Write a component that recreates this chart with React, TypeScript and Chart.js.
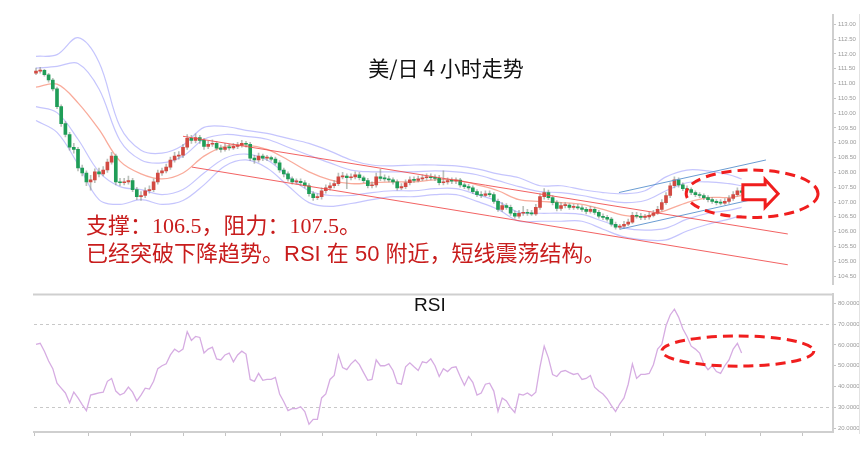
import React, { useEffect, useRef } from "react";
import { Chart, registerables } from "chart.js";
Chart.register(...registerables);

// ---------------- data ----------------
const firstOpen = 111.35;
const closes = [
  111.42, 111.45, 111.30, 111.12, 110.82, 110.22, 109.65, 109.28, 108.85, 108.78,
  108.15, 107.98, 107.68, 107.75, 108.02, 107.95, 108.08, 108.35, 108.55, 107.68,
  107.65, 107.68, 107.72, 107.42, 107.18, 107.22, 107.38, 107.42, 107.68, 107.98,
  108.05, 108.18, 108.42, 108.55, 108.58, 108.85, 109.15, 109.08, 109.18, 109.08,
  108.88, 108.95, 108.98, 108.82, 108.78, 108.85, 108.83, 108.88, 108.92, 108.98,
  108.95, 108.48, 108.42, 108.55, 108.48, 108.50, 108.45, 108.32, 108.08, 107.95,
  107.78, 107.68, 107.70, 107.65, 107.55, 107.28, 107.15, 107.18, 107.38, 107.48,
  107.55, 107.62, 107.85, 107.88, 107.82, 107.85, 107.92, 107.82, 107.72, 107.55,
  107.58, 107.85, 107.80, 107.78, 107.75, 107.68, 107.48, 107.52, 107.65, 107.75,
  107.73, 107.78, 107.82, 107.85, 107.82, 107.80, 107.65, 107.68, 107.72, 107.70,
  107.74, 107.58, 107.52, 107.48, 107.35, 107.25, 107.22, 107.28, 107.25, 107.02,
  106.75, 106.88, 106.82, 106.62, 106.52, 106.62, 106.65, 106.62, 106.60, 106.82,
  107.18, 107.32, 107.15, 106.98, 106.78, 106.88, 106.90, 106.82, 106.84, 106.80,
  106.75, 106.68, 106.75, 106.65, 106.52, 106.48, 106.42, 106.25, 106.15, 106.18,
  106.25, 106.32, 106.55, 106.52, 106.48, 106.50, 106.55, 106.62, 106.75, 106.98,
  107.22, 107.55, 107.75, 107.58, 107.45, 107.42, 107.32, 107.25, 107.22, 107.15,
  107.08, 107.02, 106.98, 106.96, 107.02, 107.12, 107.25, 107.38, 107.32,
];
const highs = [
  111.52, 111.55, 111.48, 111.35, 111.18, 110.88, 110.28, 109.72, 109.35, 108.98,
  108.85, 108.25, 108.05, 107.90, 108.12, 108.15, 108.20, 108.45, 108.68, 108.62,
  107.80, 107.80, 107.88, 107.80, 107.50, 107.35, 107.48, 107.55, 107.78, 108.08,
  108.15, 108.28, 108.52, 108.68, 108.70, 108.95, 109.28, 109.25, 109.30, 109.25,
  109.15, 109.05, 109.10, 109.05, 108.92, 108.98, 108.95, 108.98, 109.02, 109.08,
  109.05, 109.02, 108.58, 108.65, 108.62, 108.58, 108.55, 108.52, 108.40, 108.15,
  108.02, 107.85, 107.78, 107.78, 107.72, 107.62, 107.35, 107.28, 107.48, 107.58,
  107.65, 107.72, 107.98, 108.00, 107.95, 107.95, 108.02, 108.00, 107.88, 107.80,
  107.68, 107.98, 108.10, 107.92, 107.88, 107.82, 107.75, 107.62, 107.75, 107.85,
  107.85, 107.88, 107.92, 107.95, 107.95, 107.92, 107.90, 108.05, 107.82, 107.82,
  107.82, 107.80, 107.65, 107.60, 107.55, 107.42, 107.35, 107.38, 107.38, 107.32,
  107.10, 106.98, 106.95, 106.90, 106.70, 106.72, 106.85, 106.75, 106.72, 106.92,
  107.28, 107.45, 107.40, 107.22, 107.05, 106.98, 106.98, 106.95, 106.92, 106.92,
  106.88, 106.82, 106.85, 106.82, 106.72, 106.60, 106.55, 106.48, 106.32, 106.25,
  106.35, 106.42, 106.65, 106.65, 106.62, 106.58, 106.65, 106.72, 106.85, 107.08,
  107.32, 107.65, 107.85, 107.82, 107.65, 107.55, 107.48, 107.38, 107.32, 107.28,
  107.22, 107.15, 107.08, 107.08, 107.12, 107.22, 107.35, 107.48, 107.48,
];
const lows = [
  111.30, 111.35, 111.25, 111.05, 110.75, 110.15, 109.55, 109.20, 108.75, 108.65,
  108.05, 107.88, 107.55, 107.40, 107.65, 107.85, 107.88, 108.00, 108.28, 107.58,
  107.55, 107.58, 107.60, 107.35, 107.08, 107.05, 107.15, 107.30, 107.35, 107.60,
  107.90, 107.98, 108.10, 108.35, 108.45, 108.50, 108.78, 108.98, 109.00, 108.98,
  108.78, 108.80, 108.88, 108.75, 108.68, 108.72, 108.75, 108.78, 108.80, 108.85,
  108.85, 108.40, 108.30, 108.35, 108.40, 108.40, 108.38, 108.25, 108.00, 107.85,
  107.70, 107.60, 107.60, 107.55, 107.48, 107.20, 107.05, 107.08, 107.10, 107.30,
  107.40, 107.48, 107.55, 107.78, 107.45, 107.75, 107.78, 107.75, 107.65, 107.48,
  107.48, 107.50, 107.72, 107.70, 107.68, 107.60, 107.40, 107.42, 107.45, 107.58,
  107.66, 107.68, 107.72, 107.75, 107.75, 107.72, 107.58, 107.58, 107.60, 107.62,
  107.62, 107.50, 107.45, 107.40, 107.28, 107.18, 107.15, 107.18, 107.18, 106.95,
  106.68, 106.68, 106.75, 106.55, 106.45, 106.45, 106.55, 106.55, 106.55, 106.55,
  106.75, 107.10, 107.08, 106.90, 106.70, 106.72, 106.80, 106.75, 106.75, 106.75,
  106.68, 106.60, 106.62, 106.58, 106.45, 106.40, 106.35, 106.18, 106.08, 106.08,
  106.10, 106.20, 106.28, 106.45, 106.40, 106.40, 106.42, 106.50, 106.58, 106.70,
  106.92, 107.15, 107.48, 107.50, 107.38, 107.35, 107.25, 107.18, 107.15, 107.08,
  107.00, 106.95, 106.90, 106.90, 106.92, 106.95, 107.05, 107.20, 107.25,
];

const bandIdx = [0, 5, 10, 15, 20, 25, 30, 35, 40, 45, 50, 55, 60, 65, 70, 75, 80, 85, 90, 95, 100, 105, 110, 115, 120, 125, 130, 135, 140, 145, 150, 155, 160, 165, 168];
const bandMid = [110.88, 110.98, 110.35, 109.45, 108.38, 107.95, 107.78, 107.98, 108.55, 108.88, 108.92, 108.78, 108.42, 108.02, 107.75, 107.62, 107.65, 107.68, 107.68, 107.75, 107.75, 107.58, 107.38, 107.08, 107.02, 106.98, 106.92, 106.75, 106.55, 106.52, 106.72, 106.98, 107.15, 107.15, 107.22];
const bandUp2 = [111.92, 111.98, 112.55, 111.72, 109.55, 108.75, 108.65, 108.92, 109.52, 109.55, 109.42, 109.32, 109.15, 108.98, 108.72, 108.42, 108.25, 108.22, 108.25, 108.25, 108.22, 108.12, 107.95, 107.82, 107.55, 107.55, 107.42, 107.32, 107.28, 107.38, 107.85, 108.08, 108.05, 107.92, 107.78];
const bandUp1 = [111.52, 111.58, 111.68, 110.82, 109.08, 108.42, 108.32, 108.55, 109.12, 109.28, 109.22, 109.12, 108.85, 108.58, 108.32, 108.08, 108.02, 108.02, 108.02, 108.05, 108.02, 107.92, 107.72, 107.52, 107.35, 107.32, 107.22, 107.08, 106.98, 107.05, 107.38, 107.65, 107.68, 107.62, 107.55];
const bandLo1 = [110.22, 110.02, 109.12, 108.02, 107.52, 107.42, 107.25, 107.42, 107.98, 108.48, 108.62, 108.42, 107.88, 107.38, 107.22, 107.22, 107.32, 107.38, 107.38, 107.45, 107.45, 107.25, 107.02, 106.65, 106.62, 106.62, 106.58, 106.35, 106.12, 106.05, 106.12, 106.42, 106.62, 106.72, 106.82];
const bandLo2 = [109.75, 109.35, 108.28, 107.08, 106.92, 107.08, 106.92, 107.05, 107.58, 108.22, 108.42, 108.15, 107.55, 106.98, 106.85, 106.95, 107.08, 107.18, 107.18, 107.25, 107.25, 107.02, 106.75, 106.35, 106.35, 106.35, 106.35, 106.08, 105.82, 105.72, 105.72, 106.02, 106.25, 106.42, 106.55];

const chanUpper = [[35.0, 109.22], [179.0, 105.92]];
const chanLower = [[37.1, 108.18], [179.0, 104.88]];
const riseUpper = [[138.8, 107.32], [173.8, 108.42]];
const riseLower = [[139.0, 106.08], [173.6, 107.18]];

const rsi = [
  60.3, 60.8, 57.0, 52.3, 48.6, 41.6, 39.2, 36.9, 32.2, 37.3,
  34.5, 31.3, 28.4, 35.9, 36.4, 36.9, 37.3, 42.5, 43.9, 37.8,
  35.9, 36.9, 39.7, 37.3, 33.1, 35.9, 39.2, 38.8, 42.5, 48.6,
  50.0, 50.9, 55.2, 58.0, 56.6, 58.0, 66.4, 62.2, 64.1, 63.6,
  56.1, 58.0, 58.9, 53.3, 52.8, 55.2, 56.1, 51.9, 55.2, 57.0,
  55.6, 43.4, 42.5, 46.3, 43.0, 43.4, 43.4, 44.4, 36.4, 32.7,
  28.4, 29.4, 29.4, 30.3, 28.0, 21.9, 24.2, 24.2, 34.5, 36.4,
  43.4, 45.3, 55.2, 49.1, 48.1, 50.9, 52.8, 50.5, 46.7, 43.0,
  43.4, 52.8, 50.0, 50.0, 50.9, 47.7, 41.6, 41.1, 49.5, 51.4,
  49.5, 47.7, 51.9, 51.4, 53.3, 50.0, 44.8, 48.6, 47.2, 49.1,
  49.5, 44.8, 40.6, 44.8, 42.0, 35.9, 36.9, 41.1, 41.6, 37.8,
  28.0, 34.5, 33.1, 29.8, 27.5, 36.4, 35.9, 36.9, 35.5, 37.3,
  49.5, 59.4, 53.8, 45.8, 44.8, 47.2, 47.7, 46.7, 45.8, 46.3,
  43.4, 43.9, 45.3, 39.7, 37.8, 36.4, 34.1, 30.8, 28.0, 31.7,
  34.5, 41.1, 50.9, 43.9, 45.8, 45.8, 46.3, 50.5, 58.0, 60.3,
  69.2, 74.4, 77.2, 73.4, 67.8, 64.1, 59.4, 58.0, 56.1, 50.9,
  48.1, 50.0, 47.2, 46.3, 50.0, 52.8, 58.0, 60.8, 56.1,
];
const rsiLevels = [30, 70];
const priceTicks = [104.5, 105, 105.5, 106, 106.5, 107, 107.5, 108, 108.5, 109, 109.5, 110, 110.5, 111, 111.5, 112, 112.5, 113];
const rsiTicks = [20, 30, 40, 50, 60, 70, 80];
const xTickIdx = [-0.476, 12.4, 22.4, 35.2, 45.2, 58.3, 68.1, 81.0, 90.7, 103.8, 122.9, 136.7, 149.3, 159.3, 172.4, 182.4];

const titleText = "美/日 4 小时走势";
const noteLine1 = "支撑：106.5，阻力：107.5。";
const noteLine2 = "已经突破下降趋势。RSI 在 50 附近，短线震荡结构。";

// -------------- annotation geometry (data units) --------------
const upperEllipse = { x1: 154.8, x2: 186.2, yTop: 108.08, yBot: 106.48 };
const arrowShape = { sx: 168.3, hx: 173.6, tip: 176.7, sTop: 107.58, sBot: 107.08, hTop: 107.76, hBot: 106.82, mid: 107.28 };
const rsiEllipse = { x1: 149.0, x2: 185.2, yTop: 64.3, yBot: 49.8 };

// -------------- styles --------------
const X_MIN = -0.476;
const X_MAX = 189.76;
const RED = "#d24a42";
const GREEN = "#1f9d57";
const BAND = "rgba(150,150,252,0.55)";
const MID = "rgba(248,150,130,0.8)";
const CHAN = "rgba(240,70,70,0.85)";
const BLUE = "rgba(90,145,205,0.9)";
const DASH_RED = "#f01e1e";
const AXIS_FONT = { size: 6, family: "Liberation Sans" };

const opens = closes.map((c, i) => (i === 0 ? firstOpen : closes[i - 1]));
const bodies = closes.map((c, i) => ({ x: i, y: [opens[i], c] }));
const wicks = closes.map((c, i) => ({ x: i, y: [lows[i], highs[i]] }));
const bodyColors = closes.map((c, i) => (c >= opens[i] ? RED : GREEN));
const toPts = (vals: number[]) => vals.map((v, k) => ({ x: bandIdx[k], y: v }));
const pairPts = (p: number[][]) => p.map(([x, y]) => ({ x, y }));

function drawEllipse(ctx: CanvasRenderingContext2D, xs: any, ys: any, e: any) {
  const l = xs.getPixelForValue(e.x1), r = xs.getPixelForValue(e.x2);
  const t = ys.getPixelForValue(e.yTop), b = ys.getPixelForValue(e.yBot);
  ctx.save();
  ctx.beginPath();
  ctx.ellipse((l + r) / 2, (t + b) / 2, (r - l) / 2, (b - t) / 2, 0, 0, Math.PI * 2);
  ctx.setLineDash([10, 6]);
  ctx.lineWidth = 3;
  ctx.strokeStyle = DASH_RED;
  ctx.stroke();
  ctx.restore();
}

const upperAnno = {
  id: "upperAnno",
  afterDatasetsDraw(chart: any) {
    const { ctx, scales } = chart;
    const xs = scales.x, ys = scales.y;
    drawEllipse(ctx, xs, ys, upperEllipse);
    const a = arrowShape;
    const X = (v: number) => xs.getPixelForValue(v);
    const Y = (v: number) => ys.getPixelForValue(v);
    ctx.save();
    ctx.beginPath();
    ctx.moveTo(X(a.sx), Y(a.sTop));
    ctx.lineTo(X(a.hx), Y(a.sTop));
    ctx.lineTo(X(a.hx), Y(a.hTop));
    ctx.lineTo(X(a.tip), Y(a.mid));
    ctx.lineTo(X(a.hx), Y(a.hBot));
    ctx.lineTo(X(a.hx), Y(a.sBot));
    ctx.lineTo(X(a.sx), Y(a.sBot));
    ctx.closePath();
    ctx.fillStyle = "#ffffff";
    ctx.fill();
    ctx.lineWidth = 3;
    ctx.lineJoin = "miter";
    ctx.strokeStyle = DASH_RED;
    ctx.stroke();
    ctx.restore();
  },
};

const rsiAnno = {
  id: "rsiAnno",
  beforeDatasetsDraw(chart: any) {
    const { ctx, chartArea, scales } = chart;
    ctx.save();
    ctx.strokeStyle = "#c8c8c8";
    ctx.lineWidth = 1;
    ctx.setLineDash([3, 3]);
    rsiLevels.forEach((lv) => {
      const y = Math.round(scales.y.getPixelForValue(lv)) + 0.5;
      ctx.beginPath();
      ctx.moveTo(chartArea.left, y);
      ctx.lineTo(chartArea.right, y);
      ctx.stroke();
    });
    ctx.setLineDash([]);
    ctx.strokeStyle = "#cfcfcf";
    ctx.lineWidth = 2;
    ctx.beginPath();
    ctx.moveTo(chartArea.left - 1, chartArea.top + 1);
    ctx.lineTo(chartArea.right, chartArea.top + 1);
    ctx.stroke();
    ctx.restore();
  },
  afterDatasetsDraw(chart: any) {
    drawEllipse(chart.ctx, chart.scales.x, chart.scales.y, rsiEllipse);
  },
};

const lineDs = (data: any[], color: string, width: number, order: number, tension = 0.35) => ({
  type: "line" as const,
  data,
  borderColor: color,
  borderWidth: width,
  pointRadius: 0,
  tension,
  fill: false,
  order,
});

export default function App() {
  const topRef = useRef<HTMLCanvasElement>(null);
  const botRef = useRef<HTMLCanvasElement>(null);

  useEffect(() => {
    const top = new Chart(topRef.current as HTMLCanvasElement, {
      type: "bar",
      data: {
        datasets: [
          lineDs(toPts(bandUp2), BAND, 1.2, 20),
          lineDs(toPts(bandUp1), BAND, 1.2, 20),
          lineDs(toPts(bandLo1), BAND, 1.2, 20),
          lineDs(toPts(bandLo2), BAND, 1.2, 20),
          lineDs(toPts(bandMid), MID, 1.3, 19),
          {
            type: "bar",
            data: wicks as any,
            backgroundColor: "rgba(130,140,130,0.55)",
            barThickness: 1,
            grouped: false,
            borderWidth: 0,
            order: 10,
          } as any,
          {
            type: "bar",
            data: bodies as any,
            backgroundColor: bodyColors,
            barThickness: 3,
            grouped: false,
            minBarLength: 1,
            borderWidth: 0,
            order: 9,
          } as any,
          lineDs(pairPts(chanUpper), CHAN, 1, 2, 0),
          lineDs(pairPts(chanLower), CHAN, 1, 2, 0),
          lineDs(pairPts(riseUpper), BLUE, 1, 2, 0),
          lineDs(pairPts(riseLower), BLUE, 1, 2, 0),
        ] as any,
      },
      options: {
        animation: false,
        responsive: false,
        devicePixelRatio: 1,
        events: [],
        layout: { padding: { left: 34, top: 15, bottom: 2, right: 0 } },
        plugins: { legend: { display: false }, tooltip: { enabled: false } },
        scales: {
          x: { type: "linear", min: X_MIN, max: X_MAX, offset: false, display: false },
          y: {
            type: "linear",
            position: "right",
            min: 104.217,
            max: 113.317,
            afterBuildTicks: (s: any) => {
              s.ticks = priceTicks.map((v) => ({ value: v }));
            },
            afterFit: (s: any) => {
              s.width = 30;
            },
            ticks: { font: AXIS_FONT, color: "#9a9a9a", padding: 2, callback: (v: any) => Number(v).toFixed(2) },
            grid: { drawOnChartArea: false, tickLength: 3, color: "#c4c4c4" },
            border: { display: true, color: "#cfcfcf", width: 2 },
          },
        },
      } as any,
      plugins: [upperAnno],
    });

    const bot = new Chart(botRef.current as HTMLCanvasElement, {
      type: "line",
      data: {
        datasets: [
          {
            data: rsi.map((v, i) => ({ x: i, y: v })),
            borderColor: "rgba(214,172,226,1)",
            borderWidth: 1.3,
            pointRadius: 0,
            tension: 0,
            fill: false,
          },
        ],
      },
      options: {
        animation: false,
        responsive: false,
        devicePixelRatio: 1,
        events: [],
        layout: { padding: { left: 34, top: 2, bottom: 0, right: 0 } },
        plugins: { legend: { display: false }, tooltip: { enabled: false } },
        scales: {
          x: {
            type: "linear",
            min: X_MIN,
            max: X_MAX,
            offset: false,
            position: "bottom",
            afterBuildTicks: (s: any) => {
              s.ticks = xTickIdx.map((v) => ({ value: v }));
            },
            afterFit: (s: any) => {
              s.height = 24;
            },
            ticks: { display: false },
            grid: { drawOnChartArea: false, drawTicks: true, tickLength: 4, color: "#c4c4c4" },
            border: { display: true, color: "#cfcfcf", width: 2 },
          },
          y: {
            type: "linear",
            position: "right",
            min: 18.125,
            max: 84.69,
            afterBuildTicks: (s: any) => {
              s.ticks = rsiTicks.map((v) => ({ value: v }));
            },
            afterFit: (s: any) => {
              s.width = 30;
            },
            ticks: { font: AXIS_FONT, color: "#9a9a9a", padding: 2, callback: (v: any) => Number(v).toFixed(4) },
            grid: { drawOnChartArea: false, tickLength: 3, color: "#c4c4c4" },
            border: { display: true, color: "#cfcfcf", width: 2 },
          },
        },
      } as any,
      plugins: [rsiAnno],
    });

    return () => {
      top.destroy();
      bot.destroy();
    };
  }, []);

  return (
    <div style={{ position: "fixed", left: 0, top: 0, width: 863, height: 456, background: "#ffffff", overflow: "hidden" }}>
      <canvas ref={topRef} width={863} height={290} style={{ position: "absolute", left: 0, top: 0 }} />
      <canvas ref={botRef} width={863} height={168} style={{ position: "absolute", left: 0, top: 288 }} />
      <div style={{ position: "absolute", left: 859, top: 14, width: 1, height: 420, background: "#e2e2e2" }} />
      <div
        style={{
          position: "absolute",
          left: 446,
          top: 56,
          transform: "translateX(-50%)",
          fontFamily: '"Noto Sans CJK SC", sans-serif',
          fontSize: 21,
          lineHeight: "22px",
          color: "#111",
          whiteSpace: "nowrap",
        }}
      >
        {titleText}
      </div>
      <div
        style={{
          position: "absolute",
          left: 86,
          top: 214,
          fontFamily: '"Liberation Serif", "Noto Sans CJK SC", serif',
          fontSize: 22,
          lineHeight: "24px",
          color: "#c81c1c",
          whiteSpace: "nowrap",
        }}
      >
        {noteLine1}
      </div>
      <div
        style={{
          position: "absolute",
          left: 86,
          top: 242,
          fontFamily: '"Liberation Sans", "Noto Sans CJK SC", sans-serif',
          fontSize: 22,
          lineHeight: "24px",
          color: "#c81c1c",
          whiteSpace: "nowrap",
        }}
      >
        {noteLine2}
      </div>
      <div
        style={{
          position: "absolute",
          left: 414,
          top: 294,
          fontFamily: '"Liberation Sans", sans-serif',
          fontSize: 19,
          lineHeight: "22px",
          color: "#111",
        }}
      >
        RSI
      </div>
    </div>
  );
}
